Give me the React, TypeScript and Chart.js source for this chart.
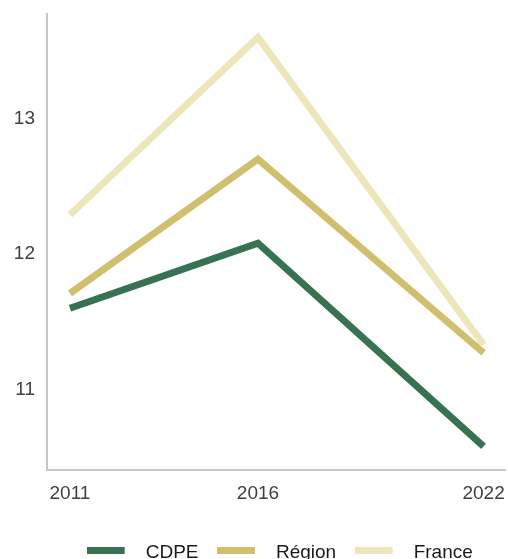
import React, { useEffect, useRef } from "react";
import { Chart, registerables } from "chart.js";

Chart.register(...registerables);

const years = [2011, 2016, 2022];
const cdpe = [11.6, 12.08, 10.58];
const region = [11.71, 12.7, 11.27];
const france = [12.29, 13.6, 11.33];
const yTicks = [11, 12, 13];

const seriesNames = ["CDPE", "Région", "France"];
const seriesColors = ["#377352", "#d0c06e", "#ede6bb"];

function makeSwatch(color: string): HTMLCanvasElement {
  const c = document.createElement("canvas");
  c.width = 42;
  c.height = 11;
  const ctx = c.getContext("2d")!;
  ctx.fillStyle = color;
  ctx.fillRect(0, 0, 38, 7);
  return c;
}

function zeroPadding(scale: any) {
  scale.paddingLeft = 0;
  scale.paddingRight = 0;
  scale.paddingTop = 0;
  scale.paddingBottom = 0;
}

export default function App() {
  const ref = useRef<HTMLCanvasElement | null>(null);

  useEffect(() => {
    if (!ref.current) return;
    const allSeries = [cdpe, region, france];
    const swatches = seriesColors.map(makeSwatch);
    const chart = new Chart(ref.current, {
      type: "line",
      data: {
        datasets: allSeries.map((s, i) => ({
          label: seriesNames[i],
          data: s.map((v, j) => ({ x: years[j], y: v })),
          borderColor: seriesColors[i],
          backgroundColor: seriesColors[i],
          borderWidth: 7,
          pointRadius: 0,
          tension: 0,
          order: 3 - i,
        })),
      },
      options: {
        animation: false,
        responsive: true,
        maintainAspectRatio: false,
        layout: { padding: { top: 14, right: 3, left: 0, bottom: 0 } },
        scales: {
          x: {
            type: "linear",
            min: 2010.39,
            max: 2022.57,
            afterBuildTicks: (scale: any) => {
              scale.ticks = years.map((v) => ({ value: v }));
            },
            afterFit: (scale: any) => {
              scale.height = 62;
              zeroPadding(scale);
            },
            grid: { display: false, drawTicks: false },
            border: { display: true, color: "#c8c8c8", width: 2 },
            ticks: {
              padding: 12,
              color: "#404040",
              font: { family: "'Liberation Sans', Arial, sans-serif", size: 19 },
              callback: (v: any) => String(v),
              maxRotation: 0,
            },
          },
          y: {
            type: "linear",
            min: 10.406,
            max: 13.771,
            afterBuildTicks: (scale: any) => {
              scale.ticks = yTicks.map((v) => ({ value: v }));
            },
            afterFit: (scale: any) => {
              scale.width = 47;
              zeroPadding(scale);
            },
            grid: { display: false, drawTicks: false },
            border: { display: true, color: "#c8c8c8", width: 2 },
            ticks: {
              padding: 12,
              color: "#404040",
              font: { family: "'Liberation Sans', Arial, sans-serif", size: 19 },
              callback: (v: any) => String(v),
            },
          },
        },
        plugins: {
          legend: {
            position: "bottom",
            fullSize: false,
            labels: {
              usePointStyle: true,
              pointStyleWidth: 57,
              padding: 11,
              color: "#1a1a1a",
              font: { family: "'Liberation Sans', Arial, sans-serif", size: 19 },
              generateLabels: (ch: any) =>
                ch.data.datasets.map((d: any, i: number) => ({
                  text: d.label,
                  fillStyle: seriesColors[i],
                  strokeStyle: seriesColors[i],
                  lineWidth: 0,
                  pointStyle: swatches[i],
                  datasetIndex: i,
                  hidden: false,
                  fontColor: "#1a1a1a",
                })),
            },
          },
          tooltip: { enabled: false },
        },
      },
    });
    return () => chart.destroy();
  }, []);

  return (
    <div
      style={{
        position: "fixed",
        left: 0,
        top: 0,
        width: 508,
        height: 559,
        overflow: "hidden",
        background: "#ffffff",
      }}
    >
      <div style={{ position: "relative", width: 508, height: 572 }}>
        <canvas ref={ref} />
      </div>
    </div>
  );
}
